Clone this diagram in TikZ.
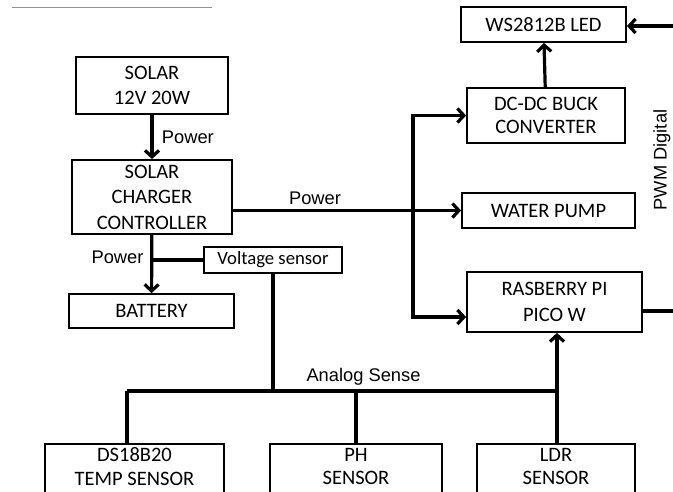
\documentclass[tikz,border=0pt]{standalone}
\usepackage{fontspec}
\setmainfont{Carlito}
\newfontfamily\labelfont{Liberation Sans}
\usetikzlibrary{arrows.meta}

\begin{document}
\begin{tikzpicture}[x=1pt, y=-1pt, >={Straight Barb[length=6.5pt,width=14pt]},
    box/.style={draw, line width=1.8pt, align=center, inner sep=0pt,
        font=\fontsize{20.5}{25.5}\selectfont},
    sensorbox/.style={box, minimum height=52, text depth=7pt, font=\fontsize{20.5}{23.5}\selectfont},
    wire/.style={line width=3.2pt},
    lbl/.style={font=\labelfont\fontsize{18.3}{20}\selectfont}]

    \useasboundingbox (0,0) rectangle (673,491);
    \clip (0,0) rectangle (673,491);

    % Stray rule at top
    \draw[color={rgb,255:red,110;green,160;blue,170}, line width=1pt] (12,7) -- (212,7);

    % Power side
    \node[box, minimum width=152, minimum height=57] (solar) at (152,85.5) {SOLAR\\12V 20W};
    \node[box, minimum width=160, minimum height=74] (charger) at (152,197) {SOLAR\\CHARGER\\CONTROLLER};
    \node[box, minimum width=165, minimum height=34] (battery) at (151.5,311) {BATTERY};
    \node[box, minimum width=138, minimum height=26, font=\fontsize{18.7}{20}\selectfont] (volt) at (273,260) {Voltage sensor};

    % Loads and controller
    \node[box, minimum width=165, minimum height=35] (led) at (543.5,24.5) {WS2812B LED};
    \node[box, minimum width=158, minimum height=55, font=\fontsize{20.5}{23.5}\selectfont] (buck) at (546,115.5) {DC-DC BUCK\\CONVERTER};
    \node[box, minimum width=173, minimum height=35] (pump) at (548.5,210.5) {WATER PUMP};
    \node[box, minimum width=175, minimum height=60, font=\fontsize{20.5}{26.5}\selectfont] (rpi) at (554.5,302) {RASBERRY PI\\PICO W};

    % Sensors
    \node[sensorbox, minimum width=179] (temp) at (134.5,470) {DS18B20\\TEMP SENSOR};
    \node[sensorbox, minimum width=172] (ph) at (356,470) {PH\\SENSOR};
    \node[sensorbox, minimum width=158] (ldr) at (556,470) {LDR\\SENSOR};

    % Power connections
    \draw[wire,->] (solar) -- (charger) node[lbl, midway, right=5pt] {Power};
    \draw[wire,->] (charger) -- (battery);
    \draw[wire] (volt.west -| charger.south) -- (volt.west);
    \node[lbl, left] at (147,257) {Power};
    \draw[wire,->] (pump.west -| charger.east) -- (pump.west)
        node[lbl, pos=0.36, above=1pt] {Power};
    \coordinate (split) at (413,210);
    \draw[wire,->] (split) |- (buck.west);
    \draw[wire,->] (split) |- ([yshift=-15pt]rpi.west);
    \draw[wire,->] (buck) -- (led);

    % PWM digital
    \coordinate (pwmin) at (673,26);
    \coordinate (pwmout) at (673,311);
    \draw[wire,->] (pwmin) -- (pwmin -| led.east);
    \draw[wire] ([yshift=-9pt]rpi.east) -- (pwmout);
    \node[lbl, rotate=90] at (662,160) {PWM Digital};

    % Analog sense bus
    \coordinate (busL) at (127,391);
    \coordinate (busR) at (557,391);
    \draw[wire] (busL) -- (busR) node[lbl, pos=0.55, above=1pt] {Analog Sense};
    \draw[wire] (volt) -- (volt |- busL);
    \draw[wire] (busL) -- (busL |- temp.north);
    \draw[wire] (ph.north) -- (ph.north |- busL);
    \draw[wire,->] (busR |- ldr.north) -- (busR |- rpi.south);

\end{tikzpicture}
\end{document}
